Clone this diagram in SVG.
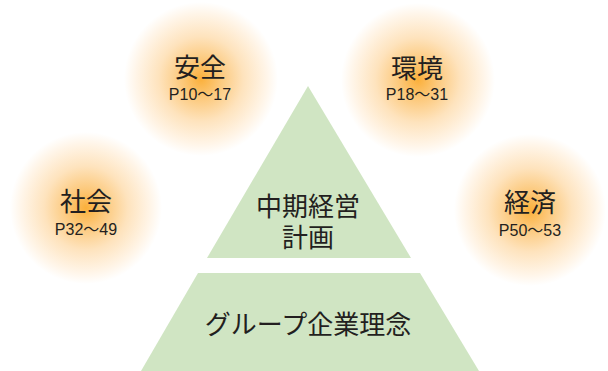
<svg xmlns="http://www.w3.org/2000/svg" width="608" height="371" viewBox="0 0 608 371">
<style>
.jp{font-family:"Noto Sans CJK JP","Noto Sans CJK SC",sans-serif;fill:#231f20;text-anchor:middle}
.big{font-size:26px}
.pg{font-family:"Liberation Sans",Arial,"Noto Sans CJK JP",sans-serif;font-size:16px;fill:#231f20;text-anchor:middle}
.green{fill:#d0e5c3}
</style>
<defs>
<radialGradient id="glow" cx="0.5" cy="0.5" r="0.5">
<stop offset="0" stop-color="#fbb03b"/>
<stop offset="0.25" stop-color="#fcc97c"/>
<stop offset="0.55" stop-color="#fee3bd"/>
<stop offset="0.85" stop-color="#fff5e8"/>
<stop offset="1" stop-color="#ffffff"/>
</radialGradient>
</defs>
<rect width="608" height="371" fill="#ffffff"/>
<g id="safety">
<circle cx="201" cy="79" r="77" fill="url(#glow)"/>
<text class="jp big" x="200" y="77">安全</text>
<text class="pg" x="200" y="100">P10～17</text>
</g>
<g id="environment">
<circle cx="418" cy="80" r="77" fill="url(#glow)"/>
<text class="jp big" x="417" y="78">環境</text>
<text class="pg" x="417" y="100">P18～31</text>
</g>
<g id="society">
<circle cx="86" cy="208" r="76" fill="url(#glow)"/>
<text class="jp big" x="86" y="211">社会</text>
<text class="pg" x="86" y="235">P32～49</text>
</g>
<g id="economy">
<circle cx="530" cy="210" r="76" fill="url(#glow)"/>
<text class="jp big" x="530" y="212">経済</text>
<text class="pg" x="530" y="236">P50～53</text>
</g>
<g id="plan">
<polygon class="green" points="308,86 207,258 411,258"/>
<text class="jp big" x="308" y="216">中期経営</text>
<text class="jp big" x="308" y="247">計画</text>
</g>
<g id="philosophy">
<polygon class="green" points="198,273 420,273 479,371 141,371"/>
<text class="jp big" x="308" y="334">グループ企業理念</text>
</g>
<g id="connectors"></g>
</svg>
